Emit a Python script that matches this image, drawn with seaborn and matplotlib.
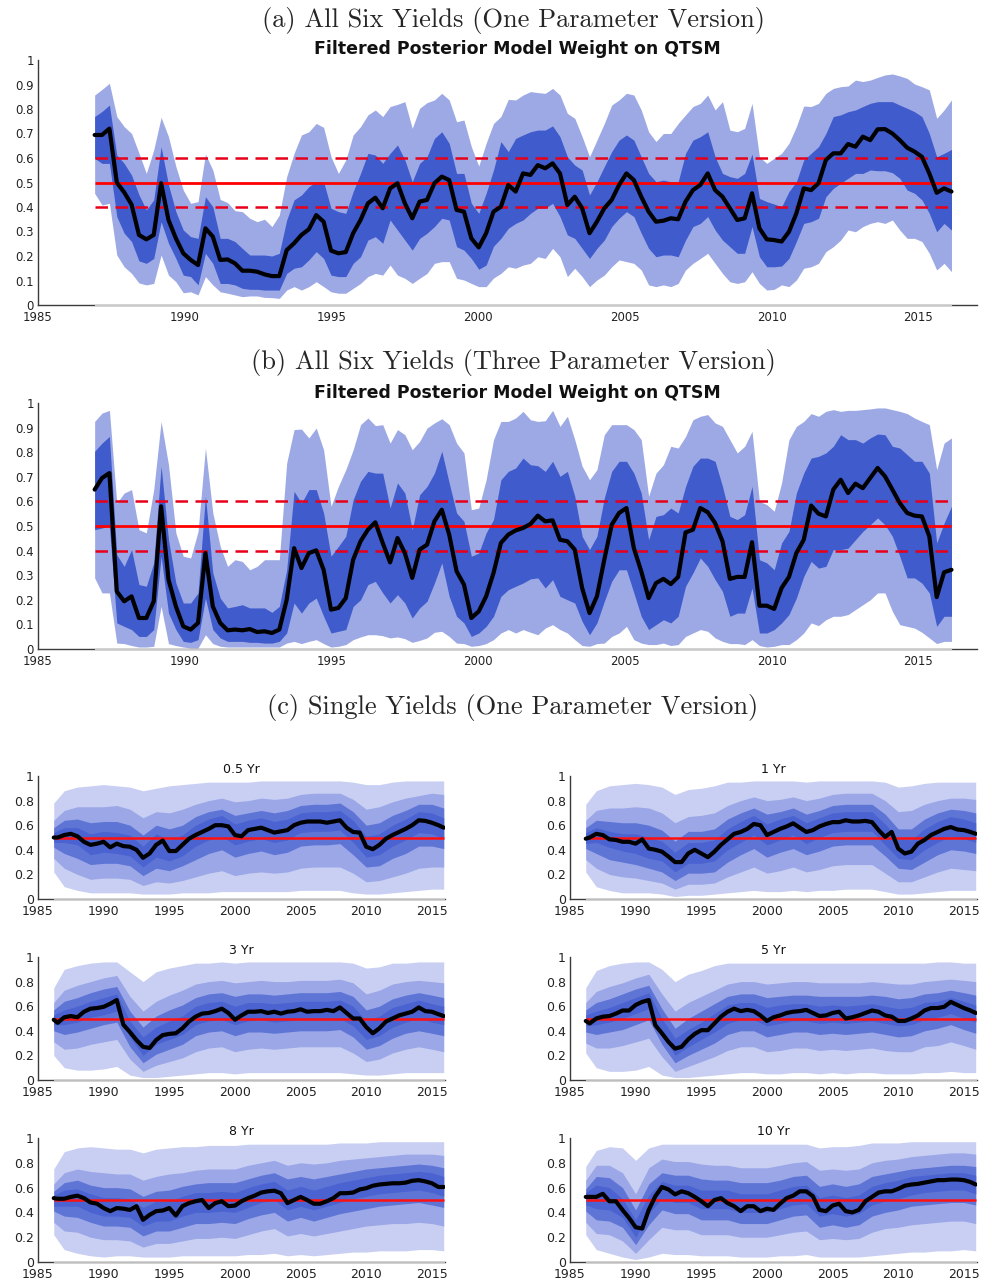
import numpy as np
import matplotlib
matplotlib.use("Agg")
import matplotlib.pyplot as plt
import seaborn as sns

# ---------------- DATA ----------------
# Panels (a) and (b): quarterly dates 1987Q1 .. 2016Q1 (117 points)
n_q = 117
dates_q = np.linspace(1986.93, 2016.13, n_q)

a_med = [.694,.694,.72,.50,.46,.41,.286,.268,.286,.497,
         .347,.272,.211,.184,.163,.313,.279,.184,.186,.17,
         .14,.14,.136,.125,.118,.118,.224,.252,.286,.309,
         .367,.34,.222,.211,.216,.293,.347,.415,.438,.395,
         .476,.497,.415,.354,.422,.429,.497,.524,.51,.388,
         .381,.272,.235,.293,
         .381,.401,.49,.463,.537,.531,.571,.558,.578,.537,
         .408,.442,.395,.293,.34,.395,.429,.49,.537,.51,
         .442,.381,.34,.344,.354,.35,.422,.469,.49,.537,
         .469,.442,.395,.347,.354,.456,.313,.268,.265,.259,
         .299,.374,.476,.469,.497,.592,.619,.619,.657,.646,
         .687,.673,.717,.718,.70,.673,.642,.626,.605,.537,
         .458,.476,.463]
a_hi90 = [.857,.88,.905,.769,.728,.70,.62,.537,.633,.766,
          .687,.565,.469,.415,.422,.616,.551,.431,.418,.385,
          .381,.354,.34,.35,.32,.367,.524,.619,.694,.707,
          .741,.725,.605,.537,.592,.694,.728,.776,.796,.769,
          .81,.819,.83,.721,.803,.826,.837,.864,.837,.748,
          .755,.646,.567,.66,
          .741,.769,.839,.837,.857,.871,.867,.864,.884,.857,
          .782,.762,.687,.605,.673,.741,.816,.837,.864,.857,
          .796,.707,.667,.70,.70,.741,.776,.81,.823,.857,
          .796,.83,.714,.707,.721,.823,.605,.578,.599,.619,
          .66,.728,.812,.81,.823,.864,.884,.891,.894,.918,
          .912,.918,.929,.939,.943,.935,.925,.902,.891,.878,
          .762,.796,.837]
a_hi68 = [.769,.79,.816,.612,.578,.53,.45,.388,.429,.646,
          .49,.381,.306,.279,.272,.442,.401,.272,.272,.259,
          .231,.204,.204,.204,.20,.211,.347,.429,.449,.483,
          .503,.503,.395,.381,.374,.463,.537,.619,.612,.578,
          .619,.653,.592,.503,.578,.605,.68,.707,.66,.537,
          .537,.415,.374,.456,
          .551,.667,.626,.68,.694,.707,.714,.714,.731,.687,
          .605,.571,.551,.449,.503,.565,.626,.673,.694,.673,
          .605,.537,.503,.51,.503,.503,.619,.673,.687,.707,
          .605,.537,.524,.517,.537,.616,.435,.422,.412,.401,
          .463,.503,.592,.619,.646,.70,.769,.776,.789,.796,
          .81,.823,.83,.83,.83,.816,.803,.789,.769,.70,
          .605,.619,.635]
a_lo68 = [.599,.578,.578,.361,.293,.259,.18,.17,.19,.34,
          .252,.19,.122,.116,.082,.211,.17,.088,.088,.082,
          .068,.064,.064,.061,.061,.061,.129,.15,.156,.184,
          .218,.19,.122,.116,.116,.17,.197,.265,.279,.252,
          .347,.306,.265,.224,.272,.293,.32,.354,.347,.238,
          .224,.19,.146,.163,
          .24,.272,.313,.333,.347,.374,.395,.395,.415,.361,
          .286,.272,.231,.19,.231,.265,.32,.354,.381,.361,
          .293,.231,.197,.204,.204,.197,.265,.32,.333,.361,
          .306,.265,.238,.211,.211,.32,.197,.156,.156,.159,
          .19,.259,.333,.34,.354,.442,.476,.497,.517,.537,
          .537,.551,.548,.548,.54,.517,.469,.456,.429,.374,
          .299,.333,.306]
a_lo90 = [.456,.408,.415,.204,.156,.129,.09,.082,.088,.204,
          .122,.095,.05,.054,.041,.116,.082,.054,.048,.041,
          .034,.037,.037,.031,.03,.027,.061,.075,.061,.075,
          .095,.075,.054,.048,.048,.068,.088,.116,.129,.122,
          .163,.122,.109,.088,.109,.129,.17,.177,.177,.109,
          .102,.088,.075,.075,
          .11,.129,.156,.15,.163,.17,.197,.19,.231,.197,
          .116,.15,.116,.075,.102,.122,.156,.184,.177,.17,
          .143,.082,.075,.082,.075,.088,.143,.17,.19,.211,
          .17,.129,.095,.088,.095,.136,.088,.061,.064,.082,
          .075,.102,.15,.156,.17,.218,.238,.265,.306,.299,
          .32,.333,.34,.333,.347,.306,.272,.272,.259,.211,
          .143,.17,.136]

b_med = [.648,.695,.715,.234,.194,.214,.126,.126,.194,.58,
         .282,.173,.092,.079,.106,.39,.173,.106,.076,.079,
         .076,.081,.069,.072,.065,.079,.2,.41,.329,.39,
         .401,.322,.16,.167,.207,.363,.438,.485,.515,.431,
         .352,.451,.39,.289,.404,.424,.519,.566,.465,.316,
         .262,.126,.153,.214,
         .309,.431,.465,.482,.492,.508,.542,.519,.523,.444,
         .438,.404,.248,.146,.214,.363,.505,.553,.573,.41,
         .316,.207,.268,.285,.264,.293,.474,.485,.573,.556,
         .512,.438,.285,.293,.293,.434,.176,.176,.163,.248,
         .293,.39,.444,.583,.55,.539,.648,.688,.634,.672,
         .654,.695,.736,.702,.648,.593,.553,.542,.539,.458,
         .211,.312,.322]
b_hi90 = [.925,.959,.97,.593,.634,.648,.485,.472,.648,.925,
          .749,.472,.377,.37,.478,.817,.553,.417,.336,.363,
          .356,.322,.336,.363,.363,.363,.756,.892,.894,.858,
          .898,.81,.58,.661,.729,.81,.912,.939,.908,.912,
          .837,.892,.871,.81,.844,.898,.919,.936,.912,.837,
          .797,.566,.573,.688,
          .851,.925,.925,.939,.966,.932,.925,.928,.97,.905,
          .946,.851,.743,.688,.729,.871,.912,.912,.912,.892,
          .851,.621,.715,.749,.824,.817,.864,.932,.946,.953,
          .919,.905,.851,.797,.824,.885,.60,.587,.56,.675,
          .851,.905,.925,.957,.946,.966,.973,.966,.97,.97,
          .973,.976,.98,.98,.973,.966,.957,.939,.925,.912,
          .729,.837,.858]
b_hi68 = [.804,.837,.864,.383,.336,.404,.262,.255,.35,.743,
          .444,.268,.187,.187,.228,.621,.309,.207,.167,.173,
          .18,.167,.167,.167,.149,.173,.322,.641,.593,.648,
          .648,.553,.377,.417,.458,.607,.682,.722,.715,.715,
          .573,.675,.634,.485,.627,.661,.715,.804,.675,.553,
          .519,.377,.39,.472,
          .526,.688,.722,.736,.776,.749,.745,.722,.763,.702,
          .722,.621,.458,.404,.458,.614,.722,.763,.763,.715,
          .634,.444,.539,.546,.573,.553,.661,.743,.776,.776,
          .763,.661,.539,.526,.546,.661,.363,.35,.322,.431,
          .478,.634,.715,.776,.783,.797,.824,.871,.851,.851,
          .837,.858,.874,.871,.824,.817,.79,.763,.763,.715,
          .431,.512,.58]
b_lo68 = [.485,.492,.499,.106,.092,.079,.051,.051,.079,.377,
          .146,.079,.031,.027,.038,.207,.079,.045,.031,.031,
          .031,.027,.027,.024,.024,.031,.065,.187,.146,.187,
          .207,.133,.065,.072,.079,.173,.2,.262,.275,.228,
          .187,.221,.187,.126,.167,.194,.268,.35,.214,.133,
          .106,.051,.065,.092,
          .133,.214,.241,.255,.268,.285,.289,.248,.282,.214,
          .2,.187,.112,.058,.106,.194,.275,.322,.322,.228,
          .133,.079,.099,.119,.106,.133,.255,.309,.37,.336,
          .282,.234,.133,.146,.146,.248,.065,.065,.079,.106,
          .14,.207,.295,.356,.329,.336,.404,.404,.41,.444,
          .478,.505,.533,.505,.458,.377,.289,.289,.268,.228,
          .092,.133,.133]
b_lo90 = [.289,.228,.228,.024,.022,.014,.008,.008,.011,.173,
          .022,.014,.008,.004,.004,.058,.022,.011,.008,.008,
          .008,.008,.008,.008,.008,.008,.024,.031,.022,.031,
          .038,.022,.008,.011,.018,.038,.049,.058,.058,.054,
          .045,.049,.042,.027,.035,.045,.068,.072,.051,.024,
          .022,.011,.014,.022,
          .038,.065,.079,.065,.079,.068,.058,.085,.099,.079,
          .065,.038,.014,.011,.022,.024,.051,.065,.092,.038,
          .024,.018,.018,.024,.014,.018,.051,.065,.079,.072,
          .045,.031,.022,.022,.018,.038,.014,.008,.011,.018,
          .018,.038,.065,.106,.095,.119,.133,.133,.14,.16,
          .18,.2,.228,.228,.153,.099,.092,.085,.068,.045,
          .022,.031,.031]

# Panel (c): single yields. Median on half-year dates, bands on yearly dates.
dates_m = [1986.2] + list(np.arange(1986.5, 2015.51, 0.5)) + [2015.9]
dates_b = [1986.2] + list(range(1987, 2016)) + [2015.9]

maturities = ["0.5 Yr", "1 Yr", "3 Yr", "5 Yr", "8 Yr", "10 Yr"]

med_c = {
 "0.5 Yr": [.50,.50,.52,.53,.51,.465,.44,.45,.465,.42, .45,.43,.425,.40,.335,.37,.44,.475,.39,.39,
            .44,.49,.52,.545,.57,.60,.60,.59,.52,.51, .56,.57,.58,.56,.54,.55,.56,.60,.62,.63,
            .63,.63,.62,.63,.64,.58,.545,.54,.425,.405, .44,.49,.52,.545,.57,.60,.64,.635,.62,.60, .58],
 "1 Yr":   [.49,.50,.53,.52,.485,.48,.465,.465,.45,.485, .41,.40,.385,.345,.30,.30,.37,.40,.37,.34,
            .385,.44,.485,.53,.545,.57,.61,.60,.52,.545, .57,.59,.615,.58,.545,.56,.59,.61,.625,.625,
            .64,.63,.63,.635,.625,.56,.505,.545,.41,.37, .385,.45,.48,.52,.545,.57,.585,.565,.56,.545, .53],
 "3 Yr":   [.49,.465,.51,.52,.51,.555,.58,.585,.595,.62, .65,.45,.39,.325,.27,.26,.325,.365,.375,.38,
            .42,.475,.515,.54,.545,.56,.58,.545,.49,.525, .555,.555,.56,.545,.555,.54,.555,.56,.575,.555,
            .56,.56,.57,.56,.59,.545,.50,.50,.43,.38, .42,.475,.50,.525,.54,.555,.59,.56,.555,.535, .52],
 "5 Yr":   [.48,.46,.50,.515,.52,.54,.565,.565,.61,.635, .65,.445,.38,.31,.255,.27,.33,.375,.405,.405,
            .46,.515,.555,.58,.56,.57,.56,.525,.48,.51, .525,.545,.555,.56,.57,.545,.52,.525,.545,.555,
            .50,.51,.525,.545,.565,.555,.525,.515,.48,.48, .50,.525,.565,.585,.585,.595,.635,.61,.585,.565, .545],
 "8 Yr":   [.515,.51,.51,.525,.535,.515,.48,.47,.435,.41, .435,.43,.42,.45,.34,.38,.41,.415,.435,.375,
            .45,.475,.49,.50,.435,.475,.49,.45,.455,.49, .515,.535,.56,.57,.575,.555,.475,.50,.525,.50,
            .47,.47,.49,.515,.555,.555,.56,.585,.595,.615, .625,.63,.635,.635,.64,.655,.66,.65,.635,.605, .605],
 "10 Yr":  [.525,.525,.525,.55,.49,.49,.42,.355,.28,.27, .42,.53,.605,.585,.545,.57,.555,.525,.49,.45,
            .50,.515,.475,.45,.41,.45,.45,.41,.43,.42, .47,.515,.535,.57,.57,.53,.42,.41,.455,.47,
            .41,.40,.42,.49,.525,.56,.57,.57,.59,.615, .625,.63,.64,.65,.66,.66,.665,.665,.66,.645, .625],
}

# band edges (outer -> inner): hi1/lo1 widest ... hi4/lo4 narrowest
bands_c = {
 "0.5 Yr": dict(
  hi1=[.78,.88,.91,.92,.93,.92,.91,.88,.90,.92,.93,.94,.95,.95,.95,.95,.96,.96,.96,.96,.96,.96,.96,.95,.93,.93,.95,.96,.96,.96,.96],
  hi2=[.64,.72,.75,.75,.75,.76,.73,.66,.71,.70,.73,.77,.80,.82,.79,.80,.82,.81,.82,.85,.86,.86,.86,.81,.73,.75,.79,.82,.84,.86,.85],
  hi3=[.58,.64,.65,.62,.63,.63,.60,.52,.60,.57,.60,.67,.71,.73,.68,.70,.72,.70,.72,.76,.77,.77,.78,.71,.60,.62,.68,.72,.77,.77,.74],
  hi4=[.54,.58,.58,.53,.55,.54,.52,.43,.53,.48,.52,.60,.65,.68,.61,.64,.66,.63,.65,.70,.71,.71,.72,.64,.51,.53,.60,.65,.71,.70,.66],
  lo4=[.46,.46,.44,.36,.38,.37,.35,.26,.34,.31,.35,.43,.48,.51,.44,.47,.49,.46,.48,.54,.55,.55,.56,.46,.34,.36,.43,.48,.54,.53,.49],
  lo3=[.42,.37,.33,.28,.29,.29,.27,.19,.25,.23,.27,.32,.37,.40,.34,.37,.39,.36,.38,.43,.44,.44,.45,.36,.26,.27,.33,.37,.43,.43,.41],
  lo2=[.33,.25,.20,.16,.17,.17,.16,.11,.14,.13,.15,.18,.21,.23,.19,.21,.22,.21,.22,.25,.26,.26,.26,.21,.14,.15,.18,.21,.25,.26,.26],
  lo1=[.22,.10,.07,.05,.05,.05,.05,.04,.04,.04,.05,.05,.05,.06,.06,.06,.06,.06,.06,.07,.07,.07,.07,.05,.04,.04,.05,.06,.07,.08,.08]),
 "1 Yr": dict(
  hi1=[.77,.88,.92,.93,.94,.93,.91,.85,.89,.90,.92,.95,.95,.96,.96,.96,.96,.95,.96,.96,.96,.96,.96,.95,.91,.92,.94,.95,.95,.95,.95],
  hi2=[.64,.72,.74,.74,.75,.74,.70,.62,.67,.68,.70,.76,.80,.83,.80,.81,.83,.80,.82,.85,.86,.86,.86,.80,.71,.72,.77,.80,.82,.82,.81],
  hi3=[.58,.64,.63,.62,.62,.60,.56,.47,.55,.55,.57,.65,.70,.74,.69,.71,.74,.69,.72,.76,.77,.77,.77,.69,.57,.57,.65,.70,.73,.72,.70],
  hi4=[.54,.58,.55,.53,.53,.50,.47,.38,.46,.46,.48,.57,.63,.68,.61,.65,.68,.62,.66,.70,.71,.71,.71,.61,.49,.48,.57,.63,.67,.65,.62],
  lo4=[.45,.46,.42,.39,.37,.33,.31,.22,.29,.29,.31,.40,.46,.52,.44,.48,.52,.45,.50,.54,.55,.55,.55,.44,.33,.32,.40,.46,.51,.49,.46],
  lo3=[.41,.37,.32,.30,.28,.25,.22,.15,.21,.21,.22,.30,.36,.41,.34,.38,.41,.36,.39,.43,.44,.44,.44,.35,.25,.24,.30,.36,.40,.39,.37],
  lo2=[.32,.25,.20,.18,.17,.15,.13,.08,.12,.12,.13,.18,.22,.26,.21,.23,.26,.22,.24,.27,.28,.28,.28,.21,.14,.14,.18,.22,.25,.24,.23],
  lo1=[.22,.10,.07,.05,.05,.05,.04,.02,.03,.03,.04,.05,.06,.07,.06,.06,.07,.06,.07,.07,.08,.08,.08,.06,.04,.04,.05,.06,.07,.07,.07]),
 "3 Yr": dict(
  hi1=[.75,.90,.93,.95,.96,.96,.88,.80,.88,.91,.93,.95,.95,.96,.95,.96,.96,.96,.96,.96,.96,.96,.96,.95,.91,.92,.95,.95,.96,.96,.96],
  hi2=[.63,.73,.77,.80,.83,.85,.68,.56,.64,.69,.73,.78,.80,.81,.79,.80,.81,.80,.80,.81,.81,.81,.82,.79,.70,.73,.78,.80,.81,.80,.79],
  hi3=[.57,.64,.67,.71,.74,.76,.56,.43,.52,.57,.61,.67,.70,.71,.68,.70,.70,.69,.70,.71,.71,.71,.72,.68,.57,.60,.66,.69,.71,.69,.67],
  hi4=[.53,.57,.60,.64,.67,.70,.48,.35,.43,.48,.52,.60,.63,.64,.60,.63,.63,.62,.63,.64,.64,.64,.65,.60,.48,.52,.59,.62,.65,.62,.60],
  lo4=[.45,.45,.47,.51,.53,.56,.35,.20,.29,.33,.37,.45,.48,.49,.45,.48,.49,.47,.48,.49,.49,.49,.50,.44,.33,.36,.43,.47,.50,.47,.45],
  lo3=[.40,.37,.39,.42,.45,.47,.27,.14,.21,.25,.29,.36,.39,.40,.36,.39,.39,.38,.39,.40,.40,.40,.41,.35,.25,.28,.34,.38,.40,.38,.36],
  lo2=[.31,.25,.26,.29,.31,.33,.17,.07,.12,.15,.18,.23,.26,.27,.23,.25,.26,.25,.26,.27,.27,.27,.27,.22,.15,.17,.22,.25,.27,.25,.23],
  lo1=[.20,.10,.08,.08,.09,.11,.04,.02,.02,.03,.04,.05,.06,.06,.05,.06,.06,.06,.06,.06,.06,.06,.06,.05,.04,.04,.05,.06,.06,.06,.06]),
 "5 Yr": dict(
  hi1=[.75,.89,.93,.95,.96,.96,.90,.80,.86,.89,.93,.95,.95,.95,.95,.95,.95,.95,.95,.95,.95,.95,.95,.95,.95,.95,.95,.96,.96,.95,.95],
  hi2=[.63,.72,.76,.79,.83,.86,.70,.56,.63,.68,.73,.78,.80,.80,.78,.79,.80,.80,.79,.79,.79,.79,.80,.79,.78,.78,.80,.81,.82,.81,.80],
  hi3=[.57,.63,.66,.70,.74,.77,.58,.42,.50,.56,.62,.68,.70,.70,.67,.68,.69,.69,.68,.68,.68,.68,.69,.68,.66,.67,.70,.71,.73,.71,.69],
  hi4=[.53,.56,.59,.63,.67,.71,.50,.34,.41,.47,.54,.61,.63,.63,.59,.61,.62,.62,.60,.61,.60,.61,.62,.60,.58,.59,.63,.64,.67,.64,.61],
  lo4=[.44,.45,.47,.50,.54,.58,.37,.20,.27,.33,.39,.46,.49,.49,.44,.46,.48,.48,.46,.47,.46,.47,.48,.46,.44,.45,.49,.51,.54,.50,.47],
  lo3=[.39,.37,.39,.41,.45,.49,.29,.14,.20,.25,.30,.37,.40,.40,.35,.37,.39,.39,.37,.38,.37,.38,.39,.37,.35,.36,.40,.42,.45,.41,.38],
  lo2=[.30,.26,.26,.28,.31,.34,.19,.07,.11,.15,.19,.24,.27,.27,.23,.24,.26,.26,.24,.25,.24,.25,.26,.24,.23,.23,.27,.28,.31,.28,.25],
  lo1=[.22,.10,.07,.07,.08,.11,.04,.02,.02,.03,.04,.05,.06,.06,.05,.05,.06,.06,.05,.06,.05,.06,.06,.05,.05,.05,.06,.06,.07,.06,.06]),
 "8 Yr": dict(
  hi1=[.75,.89,.92,.93,.92,.91,.91,.88,.91,.92,.93,.93,.94,.94,.94,.95,.95,.95,.95,.95,.95,.95,.96,.96,.96,.97,.97,.97,.97,.97,.97],
  hi2=[.63,.72,.75,.73,.72,.71,.71,.66,.69,.71,.72,.74,.75,.75,.75,.78,.80,.82,.78,.80,.79,.80,.82,.83,.84,.85,.86,.87,.87,.87,.86],
  hi3=[.57,.64,.66,.62,.60,.60,.59,.53,.57,.58,.61,.63,.64,.64,.64,.67,.70,.72,.67,.69,.67,.69,.71,.73,.75,.76,.77,.78,.79,.78,.76],
  hi4=[.54,.58,.59,.55,.52,.52,.51,.44,.49,.49,.53,.56,.56,.57,.56,.60,.63,.65,.58,.61,.58,.61,.64,.66,.68,.70,.71,.72,.73,.72,.69],
  lo4=[.45,.45,.45,.40,.37,.37,.36,.29,.33,.33,.37,.40,.40,.41,.40,.44,.48,.50,.42,.45,.42,.45,.48,.51,.53,.55,.56,.57,.58,.56,.53],
  lo3=[.41,.37,.36,.32,.29,.29,.28,.21,.25,.25,.28,.31,.31,.32,.31,.35,.38,.40,.33,.36,.33,.36,.39,.41,.43,.45,.46,.47,.48,.46,.44],
  lo2=[.32,.25,.24,.20,.18,.18,.17,.12,.15,.15,.17,.19,.19,.20,.19,.22,.25,.27,.21,.23,.21,.23,.25,.27,.29,.30,.31,.31,.32,.31,.29],
  lo1=[.22,.10,.07,.05,.04,.05,.05,.04,.04,.04,.05,.05,.05,.05,.05,.06,.06,.07,.05,.06,.05,.06,.07,.08,.08,.09,.09,.09,.10,.10,.09]),
 "10 Yr": dict(
  hi1=[.77,.90,.93,.92,.82,.92,.95,.95,.95,.95,.95,.95,.95,.95,.95,.95,.95,.95,.92,.93,.93,.94,.96,.96,.96,.97,.97,.97,.97,.97,.97],
  hi2=[.66,.78,.78,.72,.55,.76,.83,.81,.81,.79,.78,.78,.76,.76,.76,.78,.80,.81,.74,.75,.74,.75,.80,.82,.83,.85,.86,.87,.88,.88,.87],
  hi3=[.59,.69,.68,.60,.42,.63,.72,.70,.70,.67,.66,.66,.64,.64,.64,.66,.69,.70,.61,.63,.61,.63,.69,.71,.73,.75,.76,.77,.78,.78,.77],
  hi4=[.56,.62,.60,.51,.34,.54,.65,.62,.62,.58,.58,.58,.55,.55,.55,.58,.61,.62,.52,.54,.52,.54,.61,.64,.66,.69,.70,.71,.72,.72,.70],
  lo4=[.46,.43,.42,.36,.20,.39,.51,.48,.48,.43,.43,.43,.40,.40,.40,.43,.46,.47,.37,.39,.37,.39,.46,.49,.51,.54,.56,.57,.58,.58,.55],
  lo3=[.41,.34,.33,.28,.14,.30,.42,.39,.39,.34,.34,.34,.31,.31,.31,.34,.37,.38,.28,.30,.28,.30,.37,.40,.42,.45,.46,.47,.48,.48,.46],
  lo2=[.32,.23,.22,.17,.07,.18,.28,.26,.26,.22,.22,.22,.20,.20,.20,.22,.24,.25,.18,.19,.18,.19,.24,.27,.28,.30,.31,.32,.33,.33,.31],
  lo1=[.22,.10,.07,.04,.02,.04,.07,.06,.06,.05,.05,.05,.04,.04,.04,.05,.05,.06,.04,.04,.04,.04,.05,.06,.07,.08,.08,.09,.09,.10,.09]),
}

ref_lines_top = [0.4, 0.5, 0.6]
ref_line_c = 0.5
yticks_top = [0, .1, .2, .3, .4, .5, .6, .7, .8, .9, 1]
ylabels_top = ["0", "0.1", "0.2", "0.3", "0.4", "0.5", "0.6", "0.7", "0.8", "0.9", "1"]
yticks_c = [0, .2, .4, .6, .8, 1]
ylabels_c = ["0", "0.2", "0.4", "0.6", "0.8", "1"]
xticks = [1985, 1990, 1995, 2000, 2005, 2010, 2015]
xlabels = ["1985", "1990", "1995", "2000", "2005", "2010", "2015"]

titles = ["(a) All Six Yields (One Parameter Version)",
          "(b) All Six Yields (Three Parameter Version)",
          "(c) Single Yields (One Parameter Version)"]
subtitle = "Filtered Posterior Model Weight on QTSM"

# ---------------- STYLE ----------------
sns.set_theme(style="white")
plt.rcParams["font.family"] = ["DejaVu Sans"]
plt.rcParams["axes.unicode_minus"] = False

W, H = 982, 1283
fig = plt.figure(figsize=(W / 100, H / 100), dpi=100)

LIGHT = "#9da9e4"
DARK = "#3f5bcc"
C_BANDS = ["#c9cff2", "#9ba7e7", "#5f75d6", "#4a63d0"]
SPINE = "#3a3a3a"
SERIF = ["cmr10", "DejaVu Serif"]


def px_axes(left, top, right, bottom):
    return fig.add_axes([left / W, 1 - bottom / H, (right - left) / W, (bottom - top) / H])


def style(ax, yt, yl, xmax, fs, ylen, xpad):
    ax.set_xlim(1985, xmax)
    ax.set_ylim(0, 1)
    for s in ["top", "right"]:
        ax.spines[s].set_visible(False)
    for s in ["left", "bottom"]:
        ax.spines[s].set_color(SPINE)
        ax.spines[s].set_linewidth(1.0)
    ax.set_yticks(yt)
    ax.set_yticklabels(yl)
    ax.set_xticks(xticks)
    ax.set_xticklabels(xlabels)
    ax.tick_params(axis="y", direction="in", length=ylen, width=0.8, color=SPINE,
                   labelsize=fs, pad=3, labelcolor="#222222")
    ax.tick_params(axis="x", direction="in", length=2.5, width=0.6, color="#888888",
                   labelsize=fs, pad=xpad, labelcolor="#222222")
    ax.set_xlabel("")
    ax.set_ylabel("")
    ax.set_facecolor("white")


def top_panel(top, bottom, med, hi90, hi68, lo68, lo90, title_y, sub_y, title):
    ax = px_axes(38, top, 977, bottom)
    ax.fill_between(dates_q, lo90, hi90, color=LIGHT, linewidth=0, zorder=1)
    ax.fill_between(dates_q, lo68, hi68, color=DARK, linewidth=0, zorder=2)
    ax.hlines(ref_lines_top[1], dates_q[0], dates_q[-1], colors="#ff0000", linewidth=2.0, zorder=3)
    for v in (ref_lines_top[0], ref_lines_top[2]):
        ax.hlines(v, dates_q[0], dates_q[-1], colors="#e8001a", linewidth=1.8,
                  linestyles=(0, (5, 3)), zorder=3)
    sns.lineplot(x=dates_q, y=med, ax=ax, color="black", linewidth=3.0,
                 estimator=None, sort=False, zorder=4)
    ax.plot([dates_q[0], dates_q[-1]], [0, 0], color="#c8c8c8", linewidth=1.0,
            clip_on=False, zorder=5)
    style(ax, yticks_top, ylabels_top, 2017, 8.5, 9, 4)
    fig.text(513 / W, 1 - title_y / H, title, ha="center", va="center",
             fontsize=19, family=SERIF)
    fig.text(517 / W, 1 - sub_y / H, subtitle, ha="center", va="center",
             fontsize=12.5, fontweight="bold", color="#111111")
    return ax


top_panel(60, 305, a_med, a_hi90, a_hi68, a_lo68, a_lo90, 20, 49, titles[0])
top_panel(403, 649, b_med, b_hi90, b_hi68, b_lo68, b_lo90, 362, 393, titles[1])

fig.text(513 / W, 1 - 707 / H, titles[2], ha="center", va="center", fontsize=19, family=SERIF)

rows = [(776, 899), (957, 1080), (1138, 1262)]
cols = [(38, 445), (570, 977)]
for i, mat in enumerate(maturities):
    r, c = divmod(i, 2)
    top, bottom = rows[r]
    left, right = cols[c]
    ax = px_axes(left, top, right, bottom)
    bd = bands_c[mat]
    for k, col in enumerate(C_BANDS, start=1):
        ax.fill_between(dates_b, bd["lo%d" % k], bd["hi%d" % k], color=col,
                        linewidth=0, zorder=k)
    ax.hlines(ref_line_c, dates_m[0], dates_m[-1], colors="#ff1010", linewidth=1.8, zorder=6)
    sns.lineplot(x=dates_m, y=med_c[mat], ax=ax, color="black", linewidth=3.0,
                 estimator=None, sort=False, zorder=7)
    ax.plot([dates_m[0], dates_m[-1]], [0, 0], color="#bdbdbd", linewidth=1.0,
            clip_on=False, zorder=8)
    style(ax, yticks_c, ylabels_c, 2016, 9, 4, 4.5)
    ax.set_title(mat, fontsize=9, pad=2.5, color="#111111")

fig.savefig("out.png", dpi=100)
